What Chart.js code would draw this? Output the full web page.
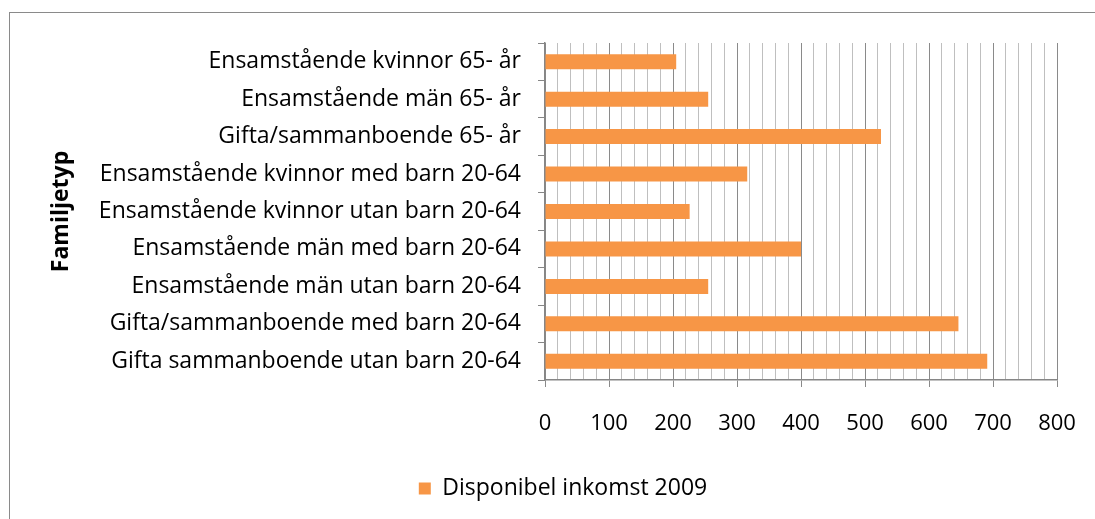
<!DOCTYPE html>
<html lang="sv">
<head>
<meta charset="UTF-8">
<title>Disponibel inkomst 2009</title>
<script src="https://cdn.jsdelivr.net/npm/chart.js@4.4.1/dist/chart.umd.min.js"></script>
<style>
    html, body { margin: 0; padding: 0; background: #fff; overflow: hidden; width: 1095px; height: 519px; }
    #frame {
        position: absolute; left: 9px; top: 12px; width: 1200px; height: 600px;
        border: 1.5px solid #8a8a8a; box-sizing: border-box;
    }
    #wrap { position: absolute; left: 9px; top: 12px; width: 1108px; height: 520px; }
</style>
</head>
<body>
<div id="frame"></div>
<div id="wrap"><canvas id="chart"></canvas></div>
<script>
    // kategorier (uppifrån och ned)
    const familjetyper = [
        'Ensamstående kvinnor 65- år',
        'Ensamstående män 65- år',
        'Gifta/sammanboende 65- år',
        'Ensamstående kvinnor med barn 20-64',
        'Ensamstående kvinnor utan barn 20-64',
        'Ensamstående män med barn 20-64',
        'Ensamstående män utan barn 20-64',
        'Gifta/sammanboende med barn 20-64',
        'Gifta sammanboende utan barn 20-64'
    ];
    const inkomst2009 = [205, 255, 525, 316, 226, 400, 255, 646, 691];
    const xTicks = [0, 100, 200, 300, 400, 500, 600, 700, 800];

    const font = "'Open Sans', sans-serif";
    const isMajor = v => xTicks.includes(v);

    new Chart(document.getElementById('chart'), {
        type: 'bar',
        data: {
            labels: familjetyper,
            datasets: [{
                label: 'Disponibel inkomst 2009',
                data: inkomst2009,
                backgroundColor: '#F79646',
                borderWidth: 0,
                barPercentage: 0.4,
                categoryPercentage: 1.0
            }]
        },
        options: {
            indexAxis: 'y',
            responsive: true,
            maintainAspectRatio: false,
            animation: false,
            layout: { padding: { top: 31, right: 60, bottom: 22, left: 60 } },
            plugins: {
                tooltip: { enabled: false },
                legend: {
                    position: 'bottom',
                    labels: {
                        color: '#000',
                        font: { family: font, size: 23 },
                        boxWidth: 12, boxHeight: 12, padding: 10
                    }
                }
            },
            scales: {
                x: {
                    min: 0, max: 800,
                    afterFit: s => { s.height = 87; },
                    ticks: {
                        stepSize: 20,
                        autoSkip: false,
                        maxRotation: 0,
                        padding: 24,
                        color: '#000',
                        font: { family: font, size: 22 },
                        callback: v => isMajor(v) ? v : ''
                    },
                    grid: {
                        color: ctx => isMajor(ctx.tick.value) ? '#8a8a8a' : '#bfbfbf',
                        tickColor: ctx => isMajor(ctx.tick.value) ? '#8a8a8a' : 'rgba(0,0,0,0)',
                        tickLength: 7
                    },
                    border: { color: '#868686', width: 1.5 }
                },
                y: {
                    afterFit: s => { s.width = 476; },
                    ticks: {
                        color: '#000',
                        padding: 17,
                        font: { family: font, size: 23 }
                    },
                    grid: {
                        drawOnChartArea: false,
                        tickLength: 7,
                        tickColor: '#868686'
                    },
                    border: { color: '#868686', width: 1.5 },
                    title: {
                        display: true,
                        text: 'Familjetyp',
                        color: '#000',
                        font: { family: font, size: 23, weight: 'bold' },
                        padding: { top: -21, bottom: 20 }
                    }
                }
            }
        }
    });
</script>
</body>
</html>
